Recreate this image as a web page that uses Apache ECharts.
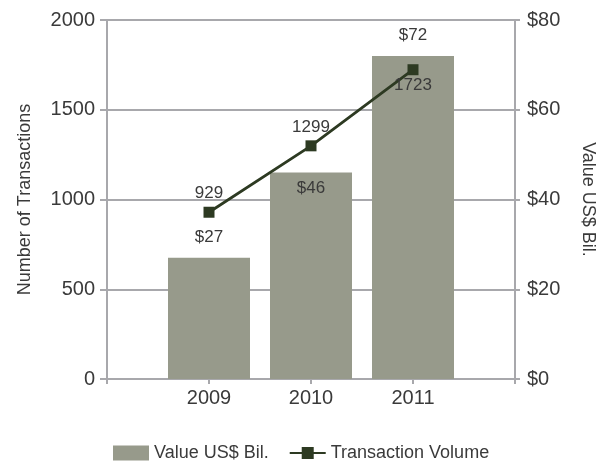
<!DOCTYPE html>
<html>
<head>
<meta charset="utf-8">
<script src="https://cdn.jsdelivr.net/npm/echarts@6/dist/echarts.min.js"></script>
<style>
  html, body { margin: 0; padding: 0; background: #fff; }
  #chart { width: 608px; height: 463px; }
</style>
</head>
<body>
<div id="chart"></div>
<script>
// padded with empty slots so the years sit on the inner ticks
var years = ['', '2009', '2010', '2011', ''];
var valueBil = ['-', 27, 46, 72, '-'];
var volume = ['-', 929, 1299, 1723, '-'];
var barLabelPos = [null, 'top', 'insideTop', 'top', null];
var lineLabelPos = [null, 'top', 'top', 'bottom', null];

var gray = '#a8a8ac';
var textColor = '#3a3a3a';
var font = 'Liberation Sans, Arial, sans-serif';

var myChart = echarts.init(document.getElementById('chart'));

var barData = valueBil.map(function (v, i) {
    if (v === '-') return v;
    return {
        value: v,
        label: { position: barLabelPos[i], distance: barLabelPos[i] === 'top' ? 12 : 7 }
    };
});
var lineData = volume.map(function (v, i) {
    if (v === '-') return v;
    return {
        value: v,
        label: { position: lineLabelPos[i], distance: lineLabelPos[i] === 'top' ? 5 : 2 }
    };
});

myChart.setOption({
    animation: false,
    textStyle: { fontFamily: font },
    grid: { left: 107, right: 93, top: 20, bottom: 84 },
    legend: {
        top: 439,
        left: 108,
        itemGap: 20,
        itemWidth: 36,
        itemHeight: 15,
        textStyle: { fontSize: 18, color: textColor, fontFamily: font },
        data: [
            { name: 'Value US$ Bil.', icon: 'rect' },
            { name: 'Transaction Volume' }
        ]
    },
    xAxis: {
        type: 'category',
        data: years,
        boundaryGap: false,
        axisLine: { lineStyle: { color: gray, width: 2 } },
        axisTick: { length: 5, lineStyle: { color: gray, width: 2 }, interval: 0 },
        axisLabel: { fontSize: 20, color: textColor, margin: 9, interval: 0 },
        splitLine: { show: false }
    },
    yAxis: [
        {
            type: 'value',
            min: 0, max: 2000, interval: 500,
            name: 'Number of Transactions',
            nameLocation: 'middle',
            nameGap: 73,
            nameTextStyle: { fontSize: 18, color: textColor },
            axisLine: { show: true, lineStyle: { color: gray, width: 2 } },
            axisTick: { show: true, length: 7, lineStyle: { color: gray, width: 2 } },
            axisLabel: {
                fontSize: 20, color: textColor, margin: 12,
                formatter: function (v) { return String(v); }
            },
            splitLine: { lineStyle: { color: gray, width: 2 } }
        },
        {
            type: 'value',
            min: 0, max: 80, interval: 20,
            position: 'right',
            name: 'Value US$ Bil.',
            nameLocation: 'middle',
            nameRotate: -90,
            nameGap: 64,
            nameTextStyle: { fontSize: 18, color: textColor },
            axisLine: { show: true, lineStyle: { color: gray, width: 2 } },
            axisTick: { show: true, length: 5, lineStyle: { color: gray, width: 2 } },
            axisLabel: { fontSize: 20, color: textColor, margin: 12, formatter: '${value}' },
            splitLine: { show: false }
        }
    ],
    series: [
        {
            name: 'Value US$ Bil.',
            type: 'bar',
            yAxisIndex: 1,
            barWidth: 82,
            data: barData,
            itemStyle: { color: '#979a8b' },
            label: { show: true, fontSize: 17, color: textColor, formatter: '${c}' }
        },
        {
            name: 'Transaction Volume',
            type: 'line',
            yAxisIndex: 0,
            data: lineData,
            symbol: 'rect',
            symbolSize: 11,
            lineStyle: { color: '#2d3a22', width: 2.8 },
            itemStyle: { color: '#2d3a22' },
            label: { show: true, fontSize: 17, color: textColor }
        }
    ]
});
</script>
</body>
</html>
